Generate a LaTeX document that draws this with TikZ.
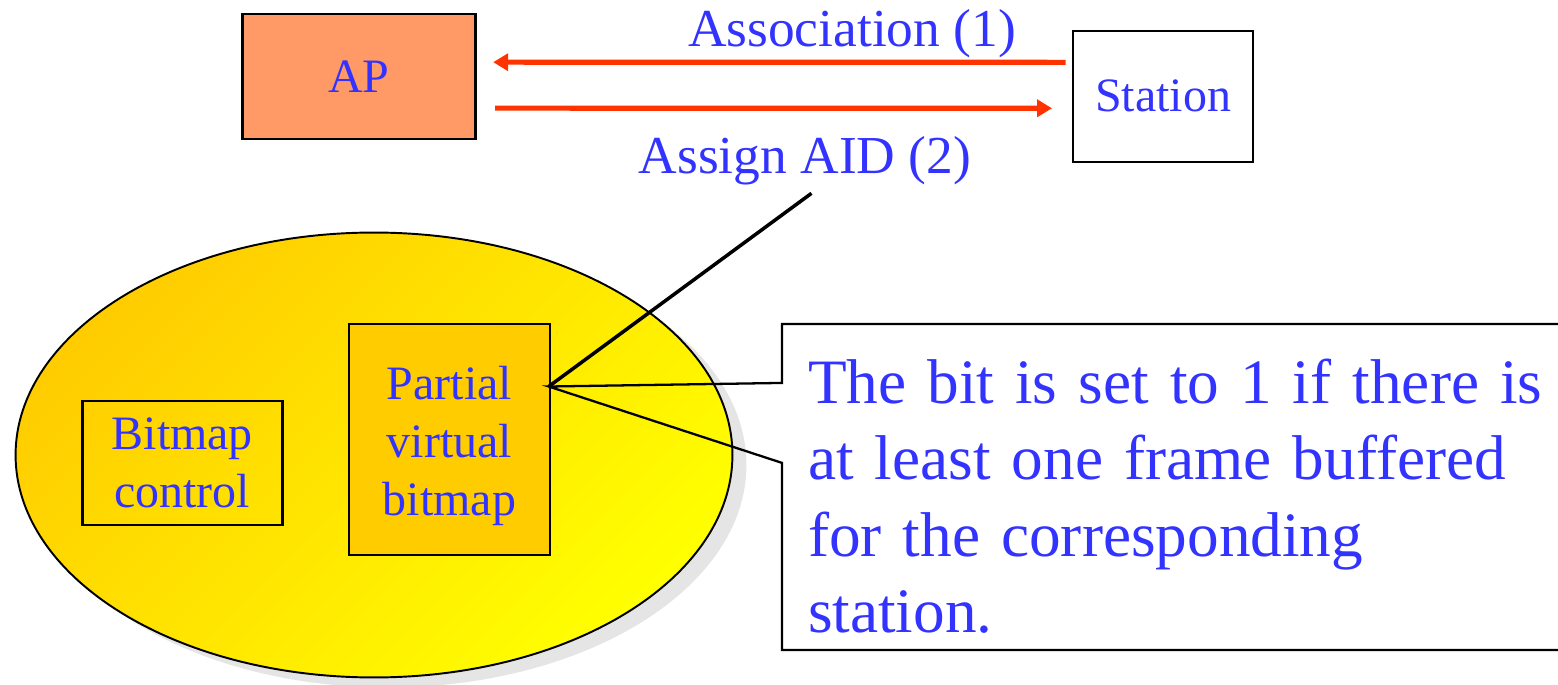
\documentclass[tikz,border=0pt]{standalone}
\usepackage{fontspec}
\setmainfont{Liberation Serif}
\usetikzlibrary{arrows.meta,shapes.callouts}

\definecolor{txtblue}{HTML}{3333FF}
\definecolor{apsalmon}{HTML}{FF9966}
\definecolor{msgred}{HTML}{FF3300}
\definecolor{bitgold}{HTML}{FFCC00}
\definecolor{bityellow}{HTML}{FFFF00}

\tikzset{
	box/.style={draw=black, line width=1.4pt, text=txtblue, align=center, inner sep=0pt, font=\fontsize{27.3}{33}\selectfont},
	msg/.style={draw=msgred, line width=2.9pt, -{Triangle[length=0.3cm,width=0.34cm]}},
	msglabel/.style={text=txtblue, inner sep=0pt, anchor=base, font=\fontsize{30.4}{36}\selectfont},
}

\begin{document}
\begin{tikzpicture}[x=0.02cm, y=-0.02cm]
		%%%%% START %%%%%
		\useasboundingbox (0,0) rectangle (1558,685);
		
		\node[box, fill=apsalmon, minimum width=4.66cm, minimum height=2.5cm] (ap) at (359,76.7) {AP};
		\node[box, fill=white, minimum width=3.61cm, minimum height=2.62cm] (station) at (1163,96.3) {Station};
		
		\draw[msg] ([shift={(-0.12cm,0.68cm)}]station.west) -- ([shift={(0.33cm,0.29cm)}]ap.east);
		\draw[msg] ([shift={(0.37cm,-0.63cm)}]ap.east) -- ([shift={(-0.39cm,-0.24cm)}]station.west);
		\node[msglabel] (assoc) at (852,46.7) {Association (1)};
		\node[msglabel] (aid) at (805,173.3) {Assign AID (2)};
		
		\fill[black!10] (388,465) ellipse [x radius=7.17cm, y radius=4.45cm];
		\draw[line width=1.1pt, top color=bitgold, bottom color=bityellow, shading angle=45] (374,455) ellipse [x radius=7.17cm, y radius=4.45cm];
		
		\node[box, minimum width=4.0cm, minimum height=2.48cm] (bmctrl) at (182.3,463) {Bitmap\\control};
		\node[box, fill=bitgold, minimum width=4.02cm, minimum height=4.62cm] (pvb) at (449.5,439.5) {\rule{0pt}{0.94cm}Partial\\virtual\\bitmap};
		
		\coordinate (tip) at ([shift={(-0.05cm,1.06cm)}]pvb.east);
		
		\node[rectangle callout, draw, line width=1.3pt, callout absolute pointer=(tip), callout pointer width=1.6cm,
			minimum width=16.5cm, minimum height=6.52cm, text width=15.46cm, inner sep=0pt, align=left,
			text=txtblue, font=\fontsize{36}{43.6}\selectfont] (note) at (1194.5,487)
			{\rule{0pt}{1.26cm}The bit is set to 1 if there is\\at least one frame buffered\\for the corresponding\\station.};
		
		\draw[line width=2pt] (tip) -- ([shift={(0.13cm,-0.4cm)}]aid.base);
		
		%%%%% END %%%%%
\end{tikzpicture}
\end{document}
